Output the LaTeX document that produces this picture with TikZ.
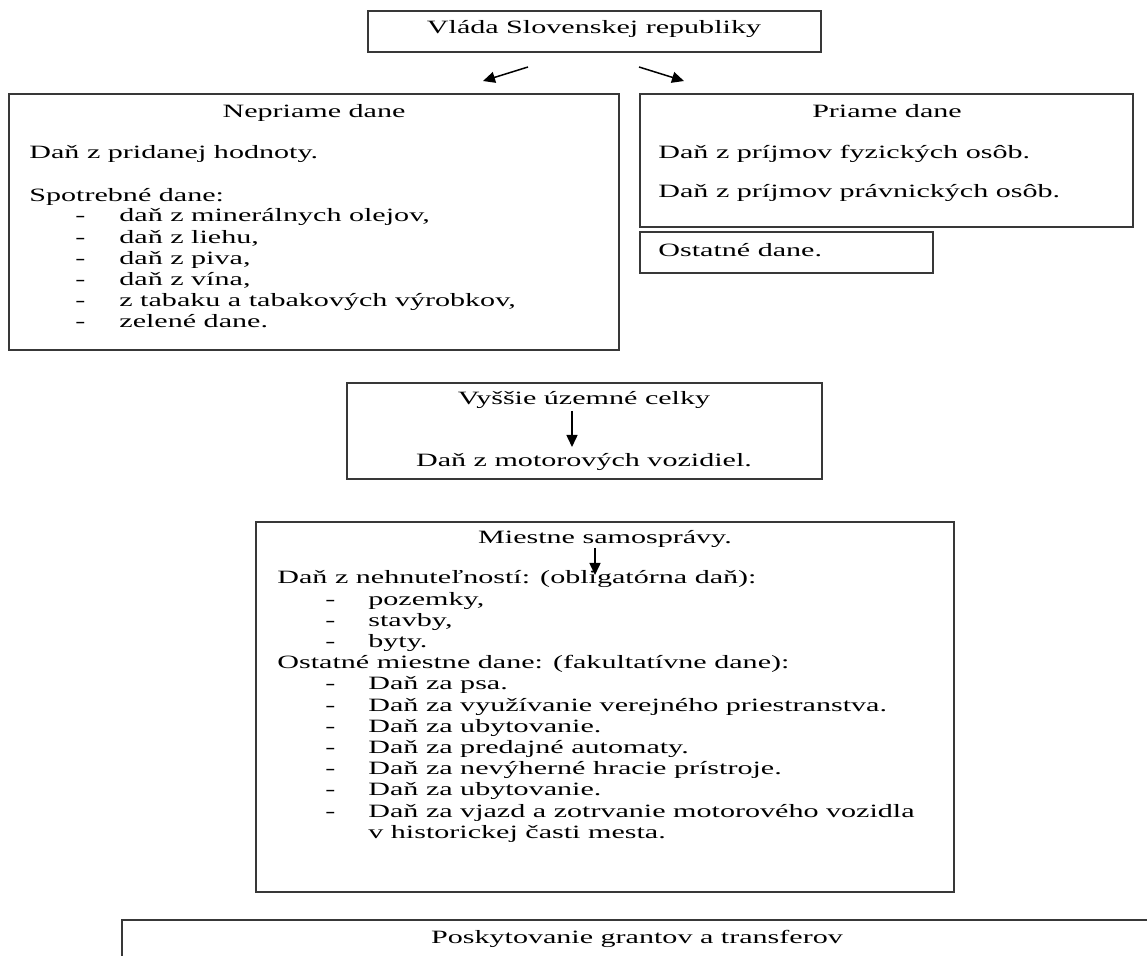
\documentclass[tikz,border=0pt]{standalone}
\usepackage{fontspec}
\setmainfont{Liberation Serif}[FakeStretch=1.6]
\usetikzlibrary{arrows.meta}

\begin{document}
\begin{tikzpicture}[x=0.5pt,y=-0.5pt,
    every node/.style={inner sep=0pt,font=\fontsize{9.4}{10.6}\selectfont},
    box/.style={draw=black!78,line width=1pt},
    ln/.style={anchor=base west},
    ttl/.style={anchor=base},
    >={Triangle[length=6pt,width=5.5pt]}]
  \useasboundingbox (0,0) rectangle (1147,956);
  % vlada
  \draw[box] (368,11) rectangle (821,52);
  \node[ttl] (vlada) at (594,34) {Vláda Slovenskej republiky};
  \coordinate (vl1) at (528,67); \coordinate (vl2) at (483,81);
  \coordinate (vr1) at (639,67); \coordinate (vr2) at (684,81);
  \draw[->,line width=0.75pt] (vl1)--(vl2);
  \draw[->,line width=0.75pt] (vr1)--(vr2);
  % nepriame dane
  \draw[box] (9,94) rectangle (619,350);
  \node[ttl] (nep) at (314,118) {Nepriame dane};
  \node[ln] (dph) at (29,159) {Daň z pridanej hodnoty.};
  \node[ln] (spd) at (29,202) {Spotrebné dane:};
  \foreach \t [count=\i from 0] in {{daň z minerálnych olejov,},{daň z liehu,},
      {daň z piva,},{daň z vína,},{z tabaku a tabakových výrobkov,},{zelené dane.}}{
    \node[ln] (spd-d\i) at (75,222+21.2*\i) {-};
    \node[ln] (spd-\i) at (119,222+21.2*\i) {\t};
  }
  % priame dane
  \draw[box] (640,94) rectangle (1133,227);
  \node[ttl] (pri) at (887,118) {Priame dane};
  \node[ln] (dfo) at (658,159) {Daň z príjmov fyzických osôb.};
  \node[ln] (dpo) at (658,198) {Daň z príjmov právnických osôb.};
  \draw[box] (640,232) rectangle (933,273);
  \node[ln] (ost) at (658,257) {Ostatné dane.};
  % vyssie uzemne celky
  \draw[box] (347,383) rectangle (822,479);
  \node[ttl] (vuc) at (584,405) {Vyššie územné celky};
  \coordinate (vuc1) at (572,411); \coordinate (vuc2) at (572,447);
  \draw[->,line width=0.75pt] (vuc1)--(vuc2);
  \node[ttl] (dmv) at (584,467) {Daň z motorových vozidiel.};
  % miestne samospravy
  \draw[box] (256,522) rectangle (954,892);
  \node[ttl] (mie) at (605,544) {Miestne samosprávy.};
  \coordinate (mie1) at (595,548); \coordinate (mie2) at (595,575);
  \draw[->,line width=0.75pt] (mie1)--(mie2);
  \node[ln] (dnh) at (277,584) {Daň z nehnuteľností: (obligatórna daň):};
  \node[ln] (omd) at (277,584+21.2*4) {Ostatné miestne dane: (fakultatívne dane):};
  \foreach \n/\t in {1/{pozemky,},2/{stavby,},3/{byty.},5/{Daň za psa.},
      6/{Daň za využívanie verejného priestranstva.},7/{Daň za ubytovanie.},
      8/{Daň za predajné automaty.},9/{Daň za nevýherné hracie prístroje.},
      10/{Daň za ubytovanie.},11/{Daň za vjazd a zotrvanie motorového vozidla}}{
    \node[ln] (md\n) at (325,584+21.2*\n) {-};
    \node[ln] (mt\n) at (368,584+21.2*\n) {\t};
  }
  \node[ln] (mt12) at (368,584+21.2*12) {v historickej časti mesta.};
  % granty a transfery
  \begin{scope}
    \clip (0,0) rectangle (1147,956);
    \draw[box] (122,920) rectangle (1160,1000);
  \end{scope}
  \node[ttl] (gra) at (637,943) {Poskytovanie grantov a transferov};
\end{tikzpicture}
\end{document}
